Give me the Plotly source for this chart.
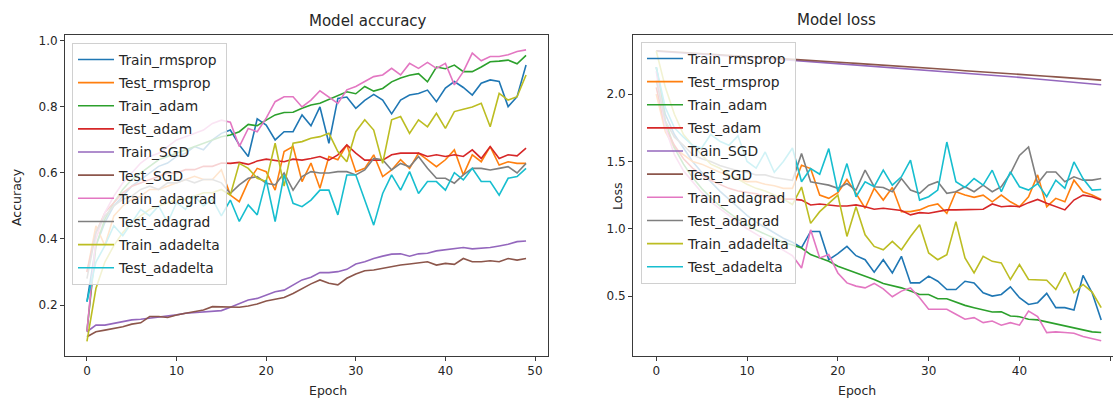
import plotly.graph_objects as go

epochs = list(range(50))

names = ["Train_rmsprop", "Test_rmsprop", "Train_adam", "Test_adam", "Train_SGD",
         "Test_SGD", "Train_adagrad", "Test_adagrad", "Train_adadelta", "Test_adadelta"]
colors = ["#1f77b4", "#ff7f0e", "#2ca02c", "#d62728", "#9467bd",
          "#8c564b", "#e377c2", "#7f7f7f", "#bcbd22", "#17becf"]

# ---------------- accuracy ----------------
acc_train_rmsprop = [0.21, 0.38, 0.45, 0.50, 0.53, 0.56, 0.58, 0.60, 0.62, 0.63, 0.65, 0.66, 0.68, 0.67, 0.70, 0.72, 0.73,
                     0.685, 0.65, 0.764, 0.745, 0.70, 0.725, 0.725, 0.776, 0.743, 0.80, 0.69, 0.826, 0.83, 0.796, 0.82,
                     0.838, 0.821, 0.779, 0.821, 0.836, 0.841, 0.851, 0.816, 0.857, 0.877, 0.859, 0.836, 0.872, 0.882,
                     0.877, 0.801, 0.831, 0.927]
acc_test_rmsprop = [0.30, 0.44, 0.38, 0.47, 0.50, 0.52, 0.53, 0.55, 0.55, 0.56, 0.57, 0.58, 0.59, 0.58, 0.58, 0.61,
                    0.533, 0.513, 0.574, 0.614, 0.604, 0.548, 0.665, 0.68, 0.574, 0.63, 0.554, 0.65, 0.64, 0.685, 0.604,
                    0.614, 0.655, 0.589, 0.609, 0.64, 0.614, 0.66, 0.64, 0.619, 0.64, 0.67, 0.594, 0.655, 0.634, 0.68,
                    0.624, 0.634, 0.629, 0.629]
acc_train_adam = [0.12, 0.38, 0.46, 0.51, 0.55, 0.58, 0.60, 0.62, 0.64, 0.65, 0.66, 0.67, 0.68, 0.69, 0.70, 0.71,
                  0.715, 0.725, 0.747, 0.743, 0.76, 0.776, 0.783, 0.784, 0.796, 0.806, 0.811, 0.823, 0.836, 0.846, 0.84,
                  0.862, 0.848, 0.856, 0.876, 0.888, 0.896, 0.901, 0.876, 0.921, 0.916, 0.927, 0.907, 0.907, 0.921,
                  0.937, 0.939, 0.942, 0.931, 0.956]
acc_test_adam = [0.30, 0.42, 0.48, 0.51, 0.54, 0.56, 0.57, 0.58, 0.59, 0.60, 0.60, 0.61, 0.61, 0.62, 0.62, 0.63,
                 0.629, 0.632, 0.626, 0.636, 0.642, 0.639, 0.634, 0.642, 0.639, 0.644, 0.65, 0.639, 0.655, 0.685, 0.66,
                 0.639, 0.639, 0.639, 0.655, 0.66, 0.66, 0.66, 0.65, 0.655, 0.65, 0.655, 0.65, 0.67, 0.644, 0.68,
                 0.644, 0.655, 0.652, 0.675]
acc_train_sgd = [0.119, 0.139, 0.139, 0.144, 0.149, 0.155, 0.157, 0.160, 0.163, 0.165, 0.170, 0.175, 0.177, 0.180,
                 0.182, 0.183, 0.193, 0.205, 0.215, 0.220, 0.230, 0.240, 0.245, 0.260, 0.276, 0.284, 0.298, 0.298,
                 0.301, 0.308, 0.324, 0.331, 0.341, 0.348, 0.354, 0.355, 0.348, 0.355, 0.357, 0.364, 0.367, 0.369,
                 0.374, 0.370, 0.372, 0.374, 0.379, 0.384, 0.392, 0.394]
acc_test_sgd = [0.104, 0.119, 0.124, 0.129, 0.134, 0.142, 0.146, 0.165, 0.165, 0.162, 0.170, 0.175, 0.180, 0.185,
                0.195, 0.195, 0.193, 0.193, 0.197, 0.203, 0.212, 0.217, 0.223, 0.235, 0.250, 0.264, 0.276, 0.266,
                0.261, 0.281, 0.294, 0.304, 0.306, 0.311, 0.318, 0.321, 0.324, 0.328, 0.331, 0.321, 0.326, 0.323,
                0.341, 0.331, 0.331, 0.334, 0.331, 0.341, 0.336, 0.341]
acc_train_adagrad = [0.12, 0.40, 0.48, 0.53, 0.57, 0.60, 0.63, 0.65, 0.66, 0.68, 0.70, 0.71, 0.72, 0.73, 0.75, 0.76,
                     0.754, 0.68, 0.735, 0.725, 0.766, 0.816, 0.831, 0.831, 0.80, 0.821, 0.849, 0.831, 0.811, 0.852,
                     0.862, 0.877, 0.892, 0.897, 0.917, 0.897, 0.932, 0.917, 0.935, 0.917, 0.932, 0.867, 0.907, 0.963,
                     0.94, 0.953, 0.953, 0.958, 0.968, 0.973]
acc_test_adagrad = [0.28, 0.42, 0.47, 0.50, 0.52, 0.53, 0.55, 0.56, 0.55, 0.57, 0.57, 0.58, 0.57, 0.58, 0.58, 0.57,
                    0.538, 0.564, 0.584, 0.589, 0.569, 0.564, 0.60, 0.548, 0.589, 0.604, 0.60, 0.60, 0.604, 0.604,
                    0.594, 0.609, 0.644, 0.64, 0.609, 0.629, 0.619, 0.65, 0.614, 0.584, 0.584, 0.569, 0.594, 0.614,
                    0.614, 0.609, 0.614, 0.619, 0.60, 0.629]
acc_train_adadelta = [0.09, 0.25, 0.33, 0.38, 0.42, 0.45, 0.47, 0.49, 0.50, 0.51, 0.52, 0.52, 0.53, 0.54, 0.54, 0.55,
                      0.533, 0.629, 0.614, 0.584, 0.574, 0.69, 0.56, 0.69, 0.695, 0.705, 0.71, 0.72, 0.665, 0.634,
                      0.725, 0.761, 0.73, 0.629, 0.761, 0.771, 0.72, 0.761, 0.74, 0.781, 0.735, 0.786, 0.793, 0.80,
                      0.811, 0.74, 0.841, 0.821, 0.831, 0.897]
acc_test_adadelta = [0.21, 0.33, 0.38, 0.44, 0.41, 0.45, 0.49, 0.47, 0.50, 0.45, 0.51, 0.49, 0.53, 0.50, 0.52, 0.47,
                     0.518, 0.453, 0.503, 0.473, 0.579, 0.453, 0.594, 0.508, 0.498, 0.518, 0.548, 0.548, 0.473, 0.594,
                     0.594, 0.518, 0.442, 0.538, 0.594, 0.548, 0.604, 0.538, 0.574, 0.574, 0.548, 0.601, 0.579, 0.614,
                     0.574, 0.574, 0.533, 0.584, 0.589, 0.614]

# ---------------- loss ----------------
loss_train_rmsprop = [2.20, 1.85, 1.70, 1.60, 1.50, 1.42, 1.35, 1.28, 1.22, 1.16, 1.10, 1.05, 1.01, 0.97, 0.93, 0.90, 0.86,
                      0.98, 0.98, 0.77, 0.815, 0.869, 0.80, 0.77, 0.677, 0.77, 0.672, 0.795, 0.598, 0.598, 0.648, 0.61,
                      0.549, 0.549, 0.61, 0.598, 0.525, 0.50, 0.512, 0.569, 0.488, 0.438, 0.451, 0.52, 0.414, 0.414,
                      0.397, 0.653, 0.525, 0.323]
loss_test_rmsprop = [2.00, 1.72, 1.60, 1.55, 1.50, 1.48, 1.45, 1.42, 1.40, 1.37, 1.35, 1.35, 1.33, 1.32, 1.30, 1.30,
                     1.472, 1.447, 1.25, 1.226, 1.268, 1.366, 1.263, 1.152, 1.30, 1.213, 1.307, 1.127, 1.127, 1.14,
                     1.169, 1.184, 1.115, 1.275, 1.25, 1.233, 1.25, 1.20, 1.25, 1.20, 1.164, 1.238, 1.40, 1.164, 1.226,
                     1.20, 1.361, 1.275, 1.25, 1.218]
loss_train_adam = [2.20, 1.80, 1.60, 1.48, 1.38, 1.30, 1.23, 1.17, 1.12, 1.07, 1.03, 0.99, 0.96, 0.93, 0.90, 0.88,
                   0.857, 0.808, 0.783, 0.758, 0.721, 0.697, 0.672, 0.648, 0.623, 0.594, 0.579, 0.561, 0.537, 0.512,
                   0.512, 0.48, 0.48, 0.456, 0.431, 0.414, 0.397, 0.382, 0.384, 0.352, 0.347, 0.328, 0.323, 0.308,
                   0.291, 0.279, 0.259, 0.249, 0.234, 0.229]
loss_test_adam = [2.05, 1.75, 1.62, 1.52, 1.45, 1.40, 1.36, 1.33, 1.30, 1.28, 1.27, 1.26, 1.24, 1.23, 1.22, 1.22,
                  1.213, 1.177, 1.184, 1.177, 1.169, 1.169, 1.177, 1.164, 1.145, 1.152, 1.145, 1.135, 1.103, 1.12,
                  1.115, 1.127, 1.14, 1.14, 1.14, 1.14, 1.145, 1.184, 1.164, 1.169, 1.164, 1.194, 1.218, 1.189, 1.164,
                  1.14, 1.213, 1.25, 1.238, 1.213]
loss_train_sgd = [2.318, 2.314, 2.310, 2.305, 2.301, 2.297, 2.292, 2.288, 2.283, 2.279, 2.274, 2.270, 2.265, 2.261,
                  2.256, 2.251, 2.247, 2.242, 2.237, 2.232, 2.228, 2.223, 2.218, 2.213, 2.208, 2.203, 2.198, 2.193,
                  2.188, 2.183, 2.178, 2.173, 2.168, 2.163, 2.158, 2.152, 2.147, 2.142, 2.137, 2.131, 2.124, 2.118,
                  2.112, 2.106, 2.100, 2.094, 2.088, 2.082, 2.076, 2.070]
loss_test_sgd = [2.322, 2.318, 2.314, 2.310, 2.306, 2.302, 2.297, 2.293, 2.289, 2.285, 2.280, 2.276, 2.272, 2.267,
                 2.263, 2.259, 2.254, 2.250, 2.246, 2.241, 2.237, 2.233, 2.228, 2.224, 2.219, 2.215, 2.210, 2.206,
                 2.201, 2.197, 2.192, 2.188, 2.183, 2.179, 2.174, 2.170, 2.165, 2.161, 2.156, 2.151, 2.147, 2.142,
                 2.137, 2.133, 2.128, 2.123, 2.118, 2.114, 2.109, 2.104]
loss_train_adagrad = [2.17, 1.75, 1.55, 1.43, 1.35, 1.27, 1.20, 1.15, 1.10, 1.05, 1.00, 0.96, 0.92, 0.88, 0.84, 0.80,
                      0.709, 0.992, 0.783, 0.808, 0.672, 0.598, 0.574, 0.561, 0.594, 0.554, 0.495, 0.537, 0.561, 0.488,
                      0.402, 0.402, 0.402, 0.365, 0.328, 0.34, 0.303, 0.315, 0.284, 0.303, 0.284, 0.389, 0.347, 0.229,
                      0.234, 0.229, 0.224, 0.20, 0.185, 0.168]
loss_test_adagrad = [2.10, 1.80, 1.68, 1.62, 1.55, 1.52, 1.50, 1.47, 1.45, 1.43, 1.42, 1.40, 1.40, 1.38, 1.37, 1.36,
                     1.558, 1.349, 1.336, 1.324, 1.30, 1.336, 1.287, 1.435, 1.312, 1.307, 1.275, 1.373, 1.287, 1.263,
                     1.324, 1.349, 1.263, 1.275, 1.312, 1.275, 1.324, 1.275, 1.312, 1.41, 1.545, 1.607, 1.336, 1.422,
                     1.422, 1.349, 1.386, 1.361, 1.361, 1.373]
loss_train_adadelta = [2.32, 2.05, 1.85, 1.70, 1.62, 1.55, 1.48, 1.45, 1.40, 1.37, 1.33, 1.30, 1.28, 1.25, 1.22, 1.18,
                       1.31, 1.04, 1.127, 1.189, 1.25, 0.943, 1.164, 0.955, 0.869, 0.844, 0.906, 0.844, 0.943, 1.029,
                       0.82, 0.77, 0.808, 1.053, 0.783, 0.672, 0.795, 0.758, 0.746, 0.623, 0.734, 0.623, 0.623, 0.618,
                       0.549, 0.677, 0.525, 0.586, 0.53, 0.414]
loss_test_adadelta = [2.20, 1.90, 1.75, 1.68, 1.62, 1.60, 1.70, 1.65, 1.62, 1.69, 1.50, 1.45, 1.57, 1.42, 1.50, 1.60,
                      1.349, 1.447, 1.405, 1.595, 1.275, 1.484, 1.238, 1.349, 1.312, 1.435, 1.324, 1.386, 1.509, 1.213,
                      1.238, 1.287, 1.644, 1.349, 1.307, 1.373, 1.324, 1.435, 1.275, 1.422, 1.312, 1.287, 1.336, 1.238,
                      1.361, 1.30, 1.496, 1.373, 1.287, 1.292]

acc_series = [acc_train_rmsprop, acc_test_rmsprop, acc_train_adam, acc_test_adam, acc_train_sgd,
              acc_test_sgd, acc_train_adagrad, acc_test_adagrad, acc_train_adadelta, acc_test_adadelta]
loss_series = [loss_train_rmsprop, loss_test_rmsprop, loss_train_adam, loss_test_adam, loss_train_sgd,
               loss_test_sgd, loss_train_adagrad, loss_test_adagrad, loss_train_adadelta, loss_test_adadelta]

acc_ticks = [0.2, 0.4, 0.6, 0.8, 1.0]
loss_ticks = [0.5, 1.0, 1.5, 2.0]
epoch_ticks = [0, 10, 20, 30, 40, 50]

W, H = 1113, 400
FONT = "DejaVu Sans"
TXT = "#262626"
AX = "#3a3a3a"

fig = go.Figure()
for k, (nm, col) in enumerate(zip(names, colors)):
    fig.add_trace(go.Scatter(x=epochs, y=acc_series[k], mode="lines", name=nm,
                             line=dict(color=col, width=1.6), xaxis="x", yaxis="y",
                             legend="legend", legendgroup="a" + str(k)))
for k, (nm, col) in enumerate(zip(names, colors)):
    fig.add_trace(go.Scatter(x=epochs, y=loss_series[k], mode="lines", name=nm,
                             line=dict(color=col, width=1.6), xaxis="x2", yaxis="y2",
                             legend="legend2", legendgroup="l" + str(k)))

# plot-area pixel boxes
L1, R1, T, B = 65, 548, 35, 356
L2, R2 = 633, 1113

def px(x):
    return x / W

def py(y):
    return 1 - y / H

axis_common = dict(showgrid=False, zeroline=False, showline=True, mirror=True,
                   linecolor=AX, linewidth=1, ticks="outside", ticklen=4, tickwidth=1,
                   tickcolor=AX, tickfont=dict(family=FONT, size=12, color=TXT), automargin=False)

legend_common = dict(bgcolor="rgba(255,255,255,0.8)", bordercolor="#d0d0d0", borderwidth=1,
                     font=dict(family=FONT, size=13.8, color=TXT), xanchor="left", yanchor="top",
                     traceorder="grouped", tracegroupgap=2.2, itemwidth=36)

fig.update_layout(
    width=W, height=H,
    margin=dict(l=0, r=0, t=0, b=0, pad=0, autoexpand=False),
    paper_bgcolor="white", plot_bgcolor="white",
    showlegend=True,
    xaxis=dict(domain=[px(L1), px(R1)], range=[-2.45, 51.45], tickvals=epoch_ticks,
               anchor="y", **axis_common),
    yaxis=dict(domain=[py(B), py(T)], range=[0.0455, 1.018], tickvals=acc_ticks,
               ticktext=["%.1f" % v for v in acc_ticks], anchor="x", **axis_common),
    xaxis2=dict(domain=[px(L2), 1.0], range=[-2.56, 50.3], tickvals=epoch_ticks,
                anchor="y2", **axis_common),
    yaxis2=dict(domain=[py(B), py(T)], range=[0.055, 2.439], tickvals=loss_ticks,
                ticktext=["%.1f" % v for v in loss_ticks], anchor="x2", **axis_common),
    legend=dict(x=px(72), y=py(43), **legend_common),
    legend2=dict(x=px(641), y=py(42), **legend_common),
    annotations=[
        dict(text="Model accuracy", x=px((L1 + R1) / 2), y=py(21), xref="paper", yref="paper",
             showarrow=False, font=dict(family=FONT, size=15, color=TXT), yanchor="middle"),
        dict(text="Model loss", x=px(878), y=py(20), xref="paper", yref="paper",
             showarrow=False, font=dict(family=FONT, size=15, color=TXT), yanchor="middle"),
        dict(text="Epoch", x=px((L1 + R1) / 2), y=py(390), xref="paper", yref="paper",
             showarrow=False, font=dict(family=FONT, size=12.5, color=TXT), yanchor="middle"),
        dict(text="Epoch", x=px(878), y=py(390), xref="paper", yref="paper",
             showarrow=False, font=dict(family=FONT, size=12.5, color=TXT), yanchor="middle"),
        dict(text="Accuracy", x=px(17), y=py(197), xref="paper", yref="paper", textangle=-90,
             showarrow=False, font=dict(family=FONT, size=12.5, color=TXT), xanchor="center", yanchor="middle"),
        dict(text="Loss", x=px(618), y=py(197), xref="paper", yref="paper", textangle=-90,
             showarrow=False, font=dict(family=FONT, size=12.5, color=TXT), xanchor="center", yanchor="middle"),
    ],
)

fig.write_html("out.html", config={"displayModeBar": False},
               post_script="document.body.style.margin='0px';document.body.style.overflow='hidden';")
